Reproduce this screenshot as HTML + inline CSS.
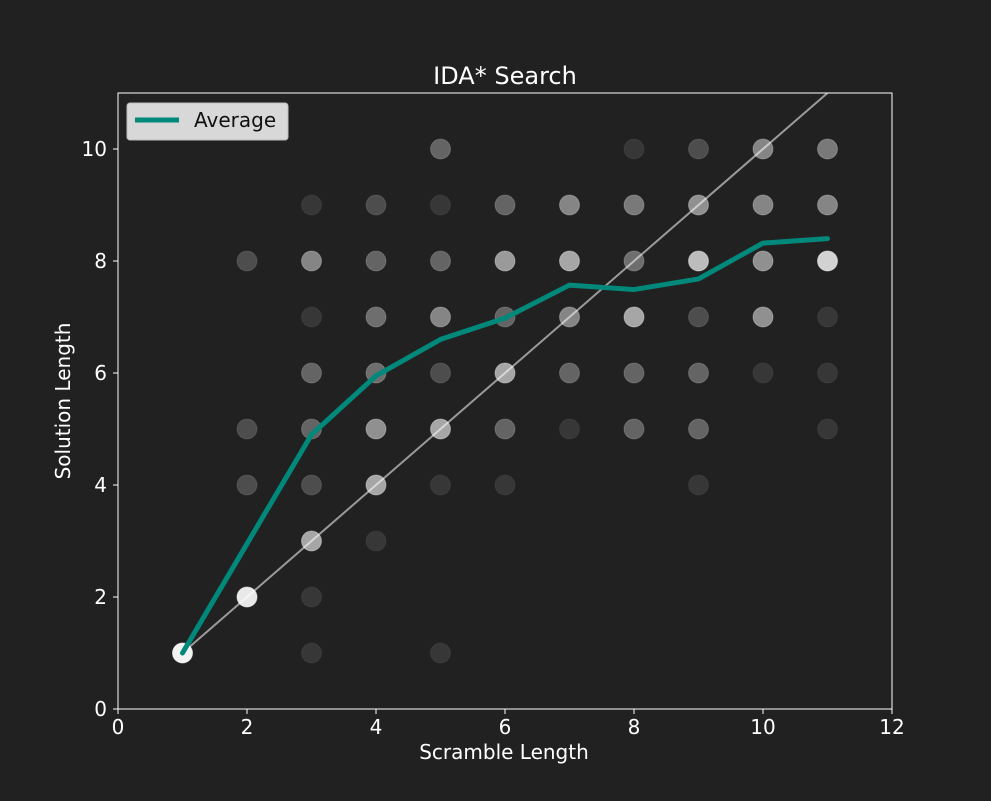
<!DOCTYPE html>
<html><head><meta charset="utf-8"><style>
body{margin:0;background:#212121;}
svg text{font-family:"DejaVu Sans","Liberation Sans",sans-serif;fill:#fff;}
</style></head><body>
<svg id="chart" width="991" height="796">
<rect width="991" height="796" fill="#212121"/>
<text x="505" y="84" font-size="24" text-anchor="middle">IDA* Search</text>
<defs><clipPath id="plotclip"><rect x="118" y="93" width="774" height="616"/></clipPath></defs>
<g id="points" clip-path="url(#plotclip)"></g>
<g id="lines" clip-path="url(#plotclip)"></g>
<rect x="118" y="93" width="774" height="616" fill="none" stroke="#fff" stroke-width="1"/>
<g id="xticks"></g>
<g id="yticks"></g>
<text x="504" y="759" font-size="20" text-anchor="middle">Scramble Length</text>
<text transform="translate(70,401) rotate(-90)" font-size="20" text-anchor="middle">Solution Length</text>
<g>
<rect x="127" y="103" width="161" height="37" rx="3" fill="#d8d8d8" stroke="#bbb"/>
<line x1="135" y1="120" x2="179" y2="120" stroke="#00897b" stroke-width="5"/>
<text x="194" y="127" font-size="20" style="fill:#111">Average</text>
</g>
</svg>
<script>
const ptX=[1,2,2,2,2,3,3,3,3,3,3,3,3,3,4,4,4,4,4,4,4,5,5,5,5,5,5,5,5,6,6,6,6,6,6,7,7,7,7,7,8,8,8,8,8,8,9,9,9,9,9,9,9,10,10,10,10,10,11,11,11,11,11,11];
const ptY=[1,8,5,4,2,9,8,7,6,5,4,3,2,1,9,8,7,6,5,4,3,10,9,8,7,6,5,4,1,9,8,7,6,5,4,9,8,7,6,5,10,9,8,7,6,5,10,9,8,7,6,5,4,10,9,8,7,6,10,9,8,7,6,5];
const ptA=[0.95,0.2,0.2,0.2,0.9,0.1,0.45,0.1,0.3,0.3,0.2,0.6,0.1,0.1,0.2,0.3,0.35,0.35,0.5,0.6,0.1,0.3,0.1,0.3,0.45,0.2,0.6,0.1,0.1,0.3,0.55,0.3,0.6,0.3,0.1,0.45,0.6,0.45,0.3,0.1,0.1,0.4,0.35,0.6,0.3,0.3,0.2,0.5,0.7,0.2,0.3,0.3,0.1,0.45,0.45,0.5,0.5,0.1,0.4,0.45,0.8,0.1,0.1,0.1];
const avgX=[1,2,3,4,5,6,7,8,9,10,11];
const avgY=[1,2.95,4.9,5.95,6.6,6.98,7.57,7.49,7.68,8.32,8.4];
const xTicks=[0,2,4,6,8,10,12];
const yTicks=[0,2,4,6,8,10];
const sx=v=>118+v*64.5, sy=v=>709-v*56;
const NS="http://www.w3.org/2000/svg";
function mk(t,a,p){const e=document.createElementNS(NS,t);for(const k in a)e.setAttribute(k,a[k]);p.appendChild(e);return e;}
const pg=document.getElementById('points');
ptX.forEach((x,i)=>{const c=mk('circle',{cx:sx(x),cy:sy(ptY[i]),r:10,fill:'#fff','fill-opacity':ptA[i],stroke:'#fff','stroke-opacity':ptA[i]*0.6,'stroke-width':1},pg);

});
const lg=document.getElementById('lines');
const d=mk('line',{x1:sx(1),y1:sy(1),x2:sx(12),y2:sy(12),stroke:'#fff','stroke-opacity':0.55,'stroke-width':2},lg);


const av=mk('polyline',{points:avgX.map((x,i)=>sx(x)+','+sy(avgY[i])).join(' '),fill:'none',stroke:'#00897b','stroke-width':5,'stroke-linejoin':'round','stroke-linecap':'round'},lg);


const xg=document.getElementById('xticks');
xTicks.forEach(v=>{const l=mk('line',{x1:sx(v),x2:sx(v),y1:709,y2:714,stroke:'#fff'},xg);


const t=mk('text',{x:sx(v),y:734,'font-size':20,'text-anchor':'middle'},xg);t.textContent=v;

});
const yg=document.getElementById('yticks');
yTicks.forEach(v=>{const l=mk('line',{x1:113,x2:118,y1:sy(v),y2:sy(v),stroke:'#fff'},yg);


const t=mk('text',{x:107,y:sy(v)+7,'font-size':20,'text-anchor':'end'},yg);t.textContent=v;

});
</script>
</body></html>
